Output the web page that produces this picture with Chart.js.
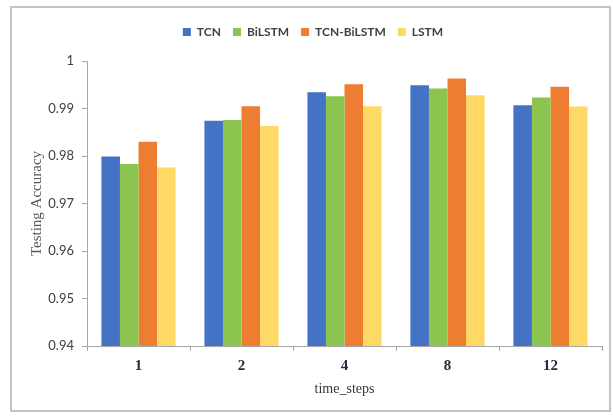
<!DOCTYPE html>
<html>
<head>
<meta charset="utf-8">
<script src="https://cdn.jsdelivr.net/npm/chart.js@4"></script>
<style>
  html, body { margin: 0; padding: 0; background: #fff; }
  #frame {
    position: absolute; left: 10px; top: 6px; width: 601px; height: 406px;
    border: 2px solid #c4c4c4; box-sizing: border-box;
  }
  #wrap { position: absolute; left: 0; top: 0; width: 613px; height: 416px; }
</style>
</head>
<body>
<div id="frame"></div>
<div id="wrap"><canvas id="barChart"></canvas></div>
<script>
// time_steps categories and testing accuracy per model
const timeSteps = ["1", "2", "4", "8", "12"];
const tcnAcc = [0.9799, 0.9874, 0.9934, 0.9949, 0.9907];
const bilstmAcc = [0.9783, 0.9876, 0.9926, 0.9942, 0.9923];
const tcnBilstmAcc = [0.9830, 0.9905, 0.9951, 0.9963, 0.9946];
const lstmAcc = [0.9776, 0.9863, 0.9905, 0.9928, 0.9904];
const yTicks = [0.94, 0.95, 0.96, 0.97, 0.98, 0.99, 1];

document.addEventListener("DOMContentLoaded", () => {
  const canvas = document.getElementById("barChart");

  // push the plot down below the legend, like the Excel original
  const legendSpace = {
    id: "legendSpace",
    beforeInit(chart) {
      const fit = chart.legend.fit;
      chart.legend.fit = function () {
        fit.bind(chart.legend)();
        this.height = 47;
      };
    }
  };

  new Chart(canvas.getContext("2d"), {
    type: "bar",
    data: {
      labels: timeSteps,
      datasets: [
        { label: "TCN", data: tcnAcc, backgroundColor: "#4472C4" },
        { label: "BiLSTM", data: bilstmAcc, backgroundColor: "#8CC450" },
        { label: "TCN-BiLSTM", data: tcnBilstmAcc, backgroundColor: "#ED7D31" },
        { label: "LSTM", data: lstmAcc, backgroundColor: "#FFD966" }
      ]
    },
    options: {
      responsive: true,
      maintainAspectRatio: false,
      animation: false,
      layout: { padding: { top: 14, right: 11, bottom: 14, left: 24 } },
      datasets: {
        bar: { barPercentage: 1, categoryPercentage: 0.72, borderWidth: 0 }
      },
      plugins: {
        legend: {
          position: "top",
          labels: {
            boxWidth: 8,
            boxHeight: 8,
            padding: 12,
            color: "#404040",
            font: { size: 12, weight: "bold", family: "Lato, sans-serif" }
          }
        },
        tooltip: { enabled: false }
      },
      scales: {
        x: {
          afterFit: scale => { scale.height = 56; },
          border: { color: "#a6a6a6", width: 1 },
          grid: { drawOnChartArea: false, tickLength: 5, color: "#a6a6a6" },
          ticks: {
            color: "#1f2a44",
            padding: 6,
            font: { size: 15, weight: "bold", family: "'Liberation Serif', serif" }
          },
          title: {
            display: true,
            text: "time_steps",
            color: "#333",
            font: { size: 14, family: "'Liberation Serif', serif" }
          }
        },
        y: {
          min: 0.94,
          max: 1,
          afterFit: scale => { scale.width = 63; },
          afterBuildTicks: scale => { scale.ticks = yTicks.map(v => ({ value: v })); },
          border: { color: "#a6a6a6", width: 1 },
          grid: { drawOnChartArea: false, tickLength: 5, color: "#a6a6a6" },
          ticks: {
            color: "#404040",
            padding: 8,
            font: { size: 13, family: "Lato, sans-serif" },
            callback: v => String(Number(v.toFixed(2)))
          },
          title: {
            display: true,
            text: "Testing Accuracy",
            color: "#595959",
            font: { size: 15, family: "'Liberation Serif', serif" }
          }
        }
      }
    },
    plugins: [legendSpace]
  });
});
</script>
</body>
</html>
